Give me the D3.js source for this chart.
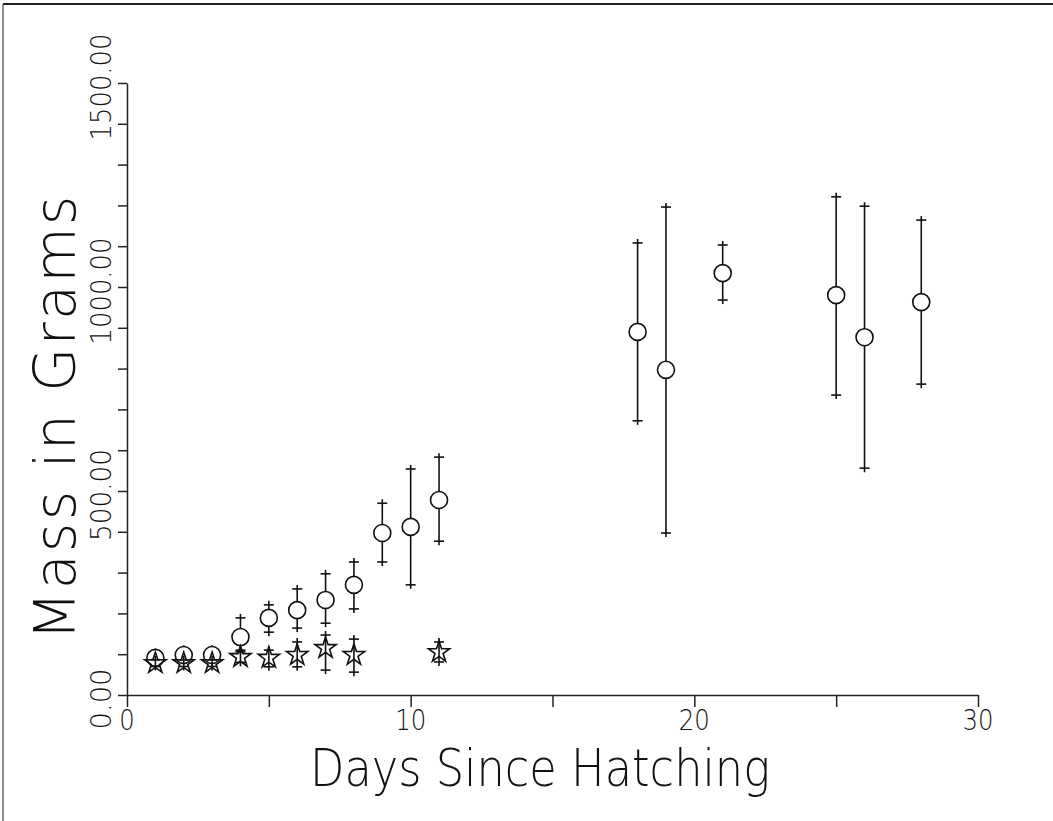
<!DOCTYPE html>
<html>
<head>
<meta charset="utf-8">
<script src="https://cdn.jsdelivr.net/npm/d3@7"></script>
<style>
  body { margin: 0; background: #fff; }
  text { font-family: "DejaVu Sans", sans-serif; font-weight: 200; fill: #111; }
</style>
</head>
<body>
<div id="chart"></div>
<script>
// Daten
var days1 = [1, 2, 3, 4, 5, 6, 7, 8, 9, 10, 11, 18, 19, 21, 25, 26, 28];
var mean1 = [91, 98, 98, 142, 189, 208, 233, 270, 397, 412, 478, 890, 797, 1034, 980, 877, 963];
var low1  = [78, 85, 85, 110, 154, 164, 176, 211, 326, 270, 377, 672, 397, 968, 735, 556, 762];
var high1 = [104, 112, 112, 189, 221, 260, 297, 326, 470, 554, 583, 1108, 1196, 1103, 1221, 1198, 1164];

var days2 = [1, 2, 3, 4, 5, 6, 7, 8, 11];
var mean2 = [78, 78, 78, 93, 91, 98, 115, 98, 105];
var low2  = [70, 70, 70, 80, 69, 69, 61, 56, 81];
var high2 = [86, 86, 86, 106, 110, 130, 147, 137, 130];

var xTicks = [0, 5, 10, 15, 20, 25, 30];
var xLabels = [0, 10, 20, 30];
var yTicks = d3.range(0, 1501, 100);
var yLabels = [0, 500, 1000, 1500];

var width = 1053, height = 821;

var svg = d3.select("#chart").append("svg")
    .attr("width", width)
    .attr("height", height);

// Rahmen (oben, links)
svg.append("line").attr("x1", 3).attr("y1", 4).attr("x2", width).attr("y2", 4)
    .attr("stroke", "#222").attr("stroke-width", 2);
svg.append("line").attr("x1", 3).attr("y1", 4).attr("x2", 3).attr("y2", height)
    .attr("stroke", "#444").attr("stroke-width", 1.2);

var x = d3.scaleLinear().domain([0, 30]).range([127, 978]);
var y = d3.scaleLinear().domain([0, 1500]).range([695, 83]);

// X - Achse
var gx = svg.append("g")
    .attr("transform", "translate(0,695)")
    .call(d3.axisBottom(x).tickValues(xTicks).tickSize(12).tickSizeOuter(0).tickFormat(""));
gx.selectAll("path, line").attr("stroke", "#222").attr("stroke-width", 1.5);

svg.append("g").selectAll("text")
    .data(xLabels)
    .enter().append("text")
    .attr("x", function(d) { return x(d); })
    .attr("y", 730)
    .attr("text-anchor", "middle")
    .attr("textLength", function(d) { return String(d).length * 15.5; })
    .attr("lengthAdjust", "spacingAndGlyphs")
    .style("font-size", "28px")
    .text(function(d) { return d; });

// Y - Achse
var gy = svg.append("g")
    .attr("transform", "translate(127,0)")
    .call(d3.axisLeft(y).tickValues(yTicks).tickSize(9).tickSizeOuter(0).tickFormat(""));
gy.selectAll("path, line").attr("stroke", "#222").attr("stroke-width", 1.5);

svg.append("g").selectAll("text")
    .data(yLabels)
    .enter().append("text")
    .attr("transform", function(d) { return "translate(111," + (y(d) + 4) + ") rotate(-90)"; })
    .attr("text-anchor", "middle")
    .attr("textLength", function(d) { return d3.format(".2f")(d).length * 15.3; })
    .attr("lengthAdjust", "spacingAndGlyphs")
    .style("font-size", "28px")
    .text(function(d) { return d3.format(".2f")(d); });

// Achsentitel
svg.append("text")
    .attr("x", 540)
    .attr("y", 786)
    .attr("text-anchor", "middle")
    .attr("textLength", 460)
    .attr("lengthAdjust", "spacingAndGlyphs")
    .style("font-size", "52px")
    .text("Days Since Hatching");

svg.append("text")
    .attr("transform", "translate(75,418) rotate(-90)")
    .attr("text-anchor", "middle")
    .attr("textLength", 445)
    .attr("lengthAdjust", "spacing")
    .style("font-size", "57px")
    .text("Mass in Grams");

// Fehlerbalken
function errorBars(g, days, low, high) {
    var idx = d3.range(days.length);
    g.selectAll("line.bar").data(idx).enter().append("line")
        .attr("class", "bar")
        .attr("x1", function(i) { return x(days[i]); })
        .attr("x2", function(i) { return x(days[i]); })
        .attr("y1", function(i) { return y(high[i]) - 4; })
        .attr("y2", function(i) { return y(low[i]) + 4; })
        .attr("stroke", "#111").attr("stroke-width", 1.6);
    g.selectAll("line.hi").data(idx).enter().append("line")
        .attr("class", "hi")
        .attr("x1", function(i) { return x(days[i]) - 5; })
        .attr("x2", function(i) { return x(days[i]) + 5; })
        .attr("y1", function(i) { return y(high[i]); })
        .attr("y2", function(i) { return y(high[i]); })
        .attr("stroke", "#111").attr("stroke-width", 1.6);
    g.selectAll("line.lo").data(idx).enter().append("line")
        .attr("class", "lo")
        .attr("x1", function(i) { return x(days[i]) - 5; })
        .attr("x2", function(i) { return x(days[i]) + 5; })
        .attr("y1", function(i) { return y(low[i]); })
        .attr("y2", function(i) { return y(low[i]); })
        .attr("stroke", "#111").attr("stroke-width", 1.6);
}

var g1 = svg.append("g").attr("id", "circles");
errorBars(g1, days1, low1, high1);
g1.selectAll("circle").data(d3.range(days1.length)).enter().append("circle")
    .attr("cx", function(i) { return x(days1[i]); })
    .attr("cy", function(i) { return y(mean1[i]); })
    .attr("r", 8.5)
    .attr("fill", "#fff")
    .attr("stroke", "#111")
    .attr("stroke-width", 1.6);

var g2 = svg.append("g").attr("id", "stars");
errorBars(g2, days2, low2, high2);
var star = d3.symbol().type(d3.symbolStar).size(140);
g2.selectAll("path.star").data(d3.range(days2.length)).enter().append("path")
    .attr("class", "star")
    .attr("d", star)
    .attr("transform", function(i) { return "translate(" + x(days2[i]) + "," + y(mean2[i]) + ")"; })
    .attr("fill", "none")
    .attr("stroke", "#111")
    .attr("stroke-width", 1.6);
</script>
</body>
</html>
